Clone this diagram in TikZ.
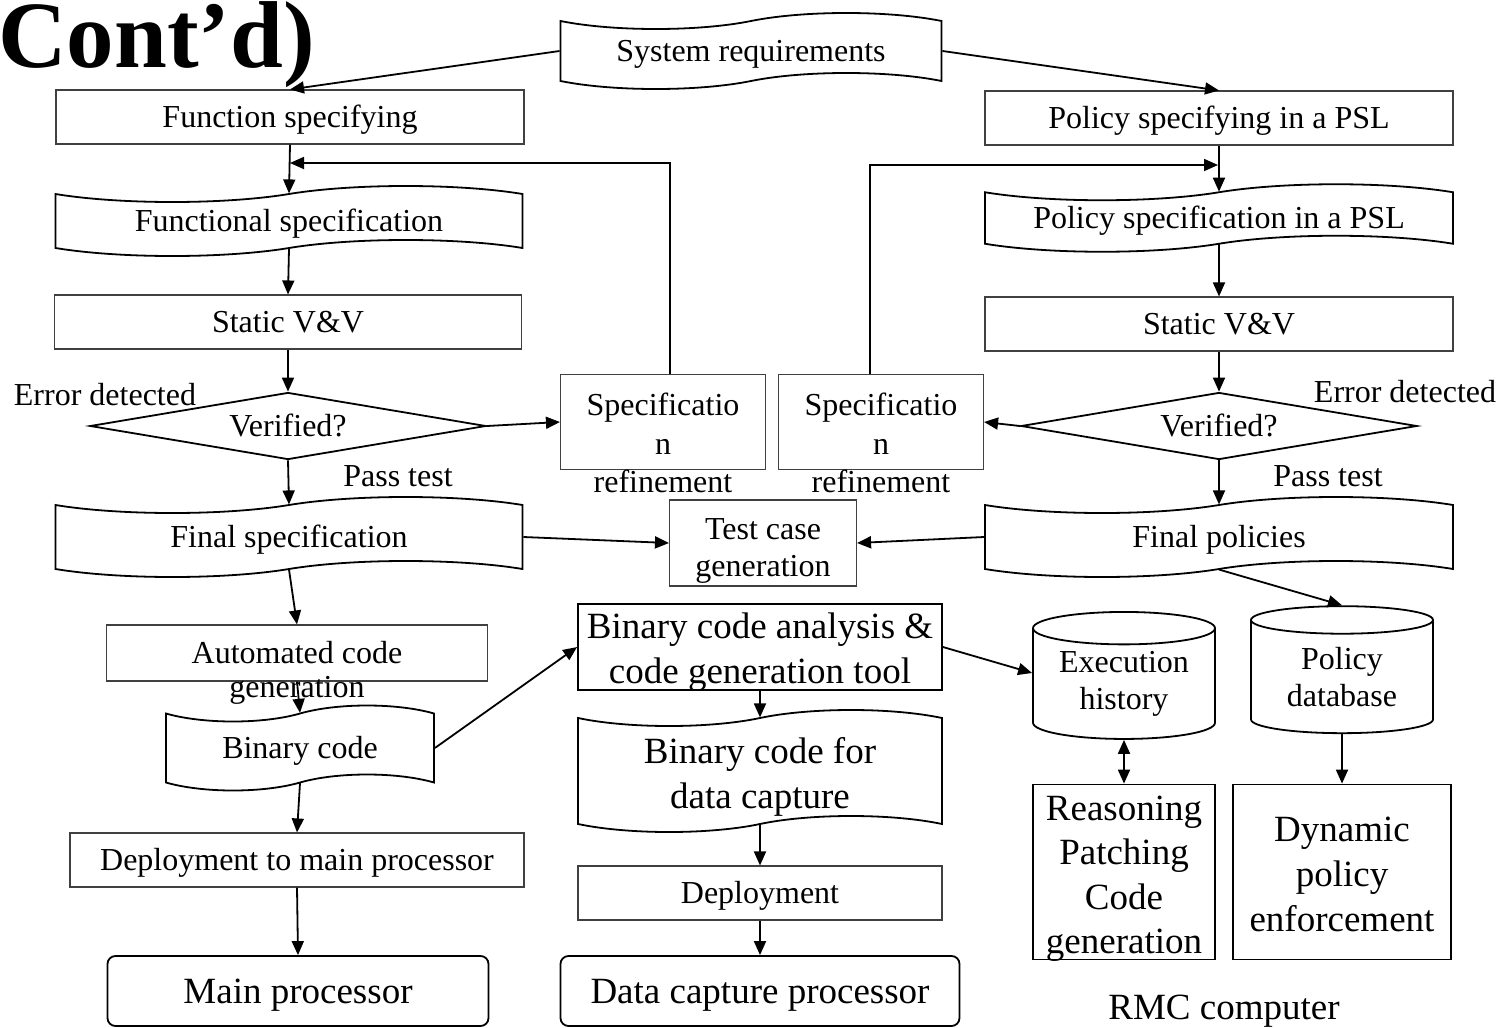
\documentclass[tikz,border=0pt]{standalone}
\usepackage{fontspec}
\setmainfont{Liberation Serif}
\usetikzlibrary{arrows.meta,positioning,shapes.geometric,shapes.symbols}
\newcommand{\smallfnt}{\fontsize{32}{37}\selectfont}
\newcommand{\bigfnt}{\fontsize{37}{44.5}\selectfont}

\begin{document}
\begin{tikzpicture}[
  x=1pt,y=-1pt,
  arr/.style={line width=1.8pt,-{Triangle[length=14pt,width=12pt]}},
  box/.style={draw=black!75,line width=1.1pt,minimum height=54pt,inner sep=0pt,font=\smallfnt,align=center},
  tapebox/.style={draw,tape,line width=1.8pt,tape bend height=16pt,inner sep=0pt,font=\smallfnt,align=center},
  decision/.style={draw,diamond,line width=1.8pt,aspect=5.9,inner sep=0pt,minimum width=396pt,minimum height=67pt,font=\smallfnt},
  proc/.style={draw,line width=1.8pt,rounded corners=8pt,minimum height=70pt,inner sep=0pt,font=\bigfnt,text height=33pt,text depth=8pt},
  thickbox/.style={draw,line width=1.8pt,inner sep=0pt,font=\bigfnt,align=center},
  db/.style={draw,cylinder,shape border rotate=90,aspect=0.25,line width=1.8pt,minimum width=182pt,minimum height=127pt,inner sep=0pt,font=\smallfnt,align=center},
  txt/.style={inner sep=0pt,font=\smallfnt,align=center},
  sl/.style={text height=28.5pt,text depth=7pt},
]
  \useasboundingbox (0,0) rectangle (1502,1028);

  % Title (cut off at the top)
  \node[font=\fontsize{95}{100}\selectfont\bfseries,anchor=base west,inner sep=0pt] (title) at (-2,67) {Cont’d)};

  % Requirements
  \node[tapebox,sl,minimum width=381pt,minimum height=76pt] (sysreq) at (751,51) {System requirements};

  % Left column: function side
  \node[box,sl,minimum width=468pt] (fspec) at (290,117) {Function specifying};
  \node[tapebox,sl,minimum width=467pt,minimum height=70pt] (fsp) at (289,221) {Functional specification};
  \node[box,sl,minimum width=467pt] (sv1) at (288,322) {Static V\&V};
  \node[decision,sl] (ver1) at (288,426) {Verified?};
  \node[box,minimum width=205pt,minimum height=95pt] (ref1) at (663,422) {};
  \node[txt,anchor=north,font=\fontsize{32}{38.5}\selectfont] (ref1t) at ([yshift=-19pt]ref1.north) {Specificatio\\n\\refinement};
  \node[tapebox,sl,minimum width=467pt,minimum height=80pt] (fin1) at (289,537) {Final specification};
  \node[box,minimum width=381pt,minimum height=56pt] (acg) at (297,653) {};
  \node[txt,anchor=north,font=\fontsize{32}{34}\selectfont] (acgt) at ([yshift=-17pt]acg.north) {Automated code\\generation};
  \node[tapebox,sl,minimum width=268pt,minimum height=85pt] (bin) at (300,748) {Binary code};
  \node[box,sl,minimum width=454pt] (dmp) at (297,860) {Deployment to main processor};
  \node[proc,minimum width=381pt] (mp) at (298,991) {Main processor};

  % Right column: policy side
  \node[box,sl,minimum width=468pt] (pspec) at (1219,118) {Policy specifying in a PSL};
  \node[tapebox,sl,minimum width=468pt,minimum height=64pt] (psp) at (1219,218) {Policy specification in a PSL};
  \node[box,sl,minimum width=468pt] (sv2) at (1219,324) {Static V\&V};
  \node[decision,sl] (ver2) at (1219,426) {Verified?};
  \node[box,minimum width=205pt,minimum height=95pt] (ref2) at (881,422) {};
  \node[txt,anchor=north,font=\fontsize{32}{38.5}\selectfont] (ref2t) at ([yshift=-19pt]ref2.north) {Specificatio\\n\\refinement};
  \node[tapebox,sl,minimum width=468pt,minimum height=80pt] (fin2) at (1219,537) {Final policies};

  % Middle column
  \node[box,minimum width=187pt,minimum height=86pt,font=\fontsize{32}{37}\selectfont,text height=73pt,text depth=7pt] (tcg) at (763,543) {Test case\\generation};
  \node[thickbox,minimum width=364pt,minimum height=86pt,font=\fontsize{37}{45}\selectfont,text height=78pt,text depth=6pt] (bca) at (760,647) {Binary code analysis \&\\code generation tool};
  \node[tapebox,minimum width=364pt,minimum height=122pt,font=\fontsize{37}{45}\selectfont,text height=80pt,text depth=6pt] (bdc) at (760,771) {Binary code for\\data capture};
  \node[box,sl,minimum width=364pt] (dep) at (760,893) {Deployment};
  \node[proc,minimum width=399pt] (dcp) at (760,991) {Data capture processor};

  % RMC computer
  \node[db] (exe) at (1124,684) {Execution\\history};
  \node[db] (pdb) at (1342,677) {Policy\\database};
  \node[thickbox,minimum width=182pt,minimum height=175pt,text height=167pt,text depth=4pt] (rpc) at (1124,872) {Reasoning\\Patching\\Code\\generation};
  \node[thickbox,minimum width=218pt,minimum height=175pt,text height=126pt,text depth=8pt,font=\fontsize{37}{45}\selectfont] (dpe) at (1342,872) {Dynamic\\policy\\enforcement};
  \node[txt,font=\bigfnt] (rmc) at (1224,1011) {RMC computer};

  % Branch labels
  \node[txt] (err1) at (105,395) {Error detected};
  \node[txt] (pass1) at (398,476) {Pass test};
  \node[txt] (err2) at (1405,392) {Error detected};
  \node[txt] (pass2) at (1328,476) {Pass test};

  % Feedback corners
  \coordinate (j1) at (290,163);
  \coordinate (j2) at (1218,165);

  % Connectors
  \draw[arr] (sysreq.west) -- (fspec.north);
  \draw[arr] (sysreq.east) -- (pspec.north);
  \draw[arr] (fspec.south) -- (fsp.north);
  \draw[arr] (pspec.south) -- (psp.north);
  \draw[arr] ([xshift=7pt]ref1.north) |- (j1);
  \draw[arr] ([xshift=-11pt]ref2.north) |- (j2);
  \draw[arr] (fsp.south) -- (sv1.north);
  \draw[arr] (psp.south) -- (sv2.north);
  \draw[arr] (sv1.south) -- (ver1.north);
  \draw[arr] (sv2.south) -- (ver2.north);
  \draw[arr] (ver1.east) -- (ref1.west);
  \draw[arr] (ver2.west) -- (ref2.east);
  \draw[arr] (ver1.south) -- (fin1.north);
  \draw[arr] (ver2.south) -- (fin2.north);
  \draw[arr] (fin1.east) -- (tcg.west);
  \draw[arr] (fin2.west) -- (tcg.east);
  \draw[arr] (fin1.south) -- (acg.north);
  \draw[arr] (acg.south) -- (bin.north);
  \draw[arr] (bin.south) -- (dmp.north);
  \draw[arr] (dmp.south) -- (mp.north);
  \draw[arr] (bin.east) -- (bca.west);
  \draw[arr] (bca.south) -- (bdc.north);
  \draw[arr] (bdc.south) -- (dep.north);
  \draw[arr] (dep.south) -- (dcp.north);
  \draw[arr] (bca.east) -- ([yshift=11pt]exe.west);
  \draw[arr] (fin2.south) -- (pdb.north);
  \draw[arr,{Triangle[length=14pt,width=12pt]}-{Triangle[length=14pt,width=12pt]}] (exe.south) -- (rpc.north);
  \draw[arr] (pdb.south) -- (dpe.north);
\end{tikzpicture}
\end{document}
